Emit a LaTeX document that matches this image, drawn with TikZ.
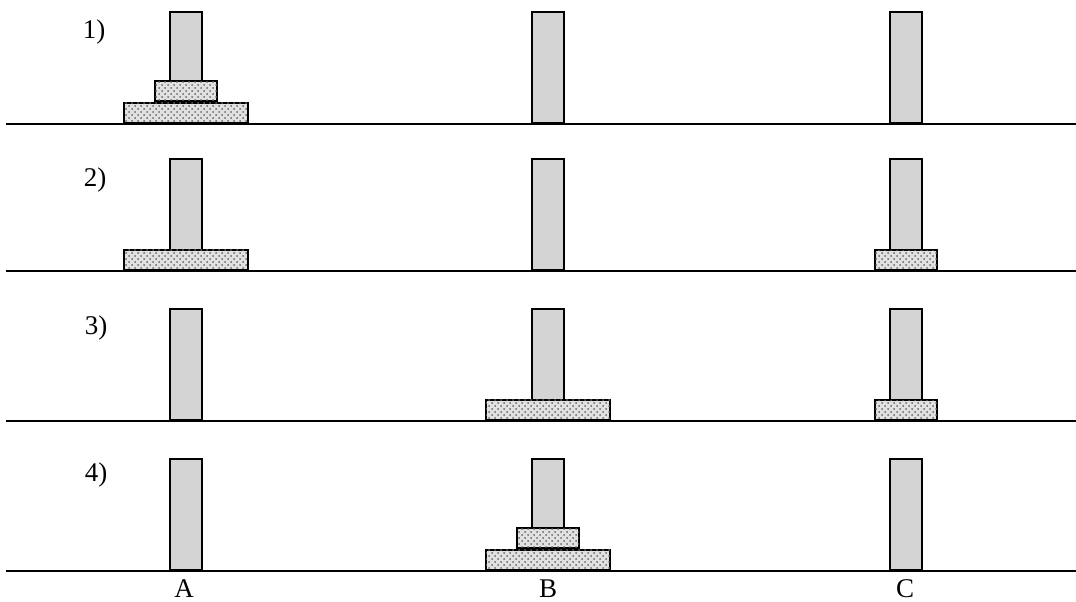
\documentclass[tikz,border=0pt]{standalone}
\usepackage{fontspec}
\setmainfont{Liberation Serif}
\usetikzlibrary{patterns}
\definecolor{pegfill}{RGB}{212, 212, 212}
\definecolor{diskfill}{RGB}{225, 225, 225}

\begin{document}
\begin{tikzpicture}[x=0.5pt, y=-0.5pt, every node/.style={font=\fontsize{13.5}{16}\selectfont, inner sep=0pt, anchor=base},
  peg/.style={draw, line width=1.1pt, fill=pegfill, minimum width=16pt, minimum height=55.5pt, anchor=south},
  bigdisk/.style={draw, line width=1.1pt, fill=diskfill, postaction={pattern=crosshatch dots, pattern color=black!60}, minimum width=62pt, minimum height=10pt, anchor=south},
  smalldisk/.style={bigdisk, minimum width=31pt, minimum height=9.8pt},
  ground/.style={line width=0.8pt}]
  \useasboundingbox (0,0) rectangle (1076,601);
  % pegs and floors
  \foreach \r/\y in {1/124, 2/271, 3/421, 4/571} {
    \foreach \p/\x in {A/186, B/548, C/906} {
      \node[peg] (peg\p\r) at (\x,\y) {};
    }
    \draw[ground] (6,\y) -- (1076,\y);
  }
  % 1)
  \node[bigdisk] (big1) at (pegA1.south) {};
  \node[smalldisk] (small1) at (big1.north) {};
  % 2)
  \node[bigdisk] (big2) at (pegA2.south) {};
  \node[smalldisk] (small2) at (pegC2.south) {};
  % 3)
  \node[bigdisk] (big3) at (pegB3.south) {};
  \node[smalldisk] (small3) at (pegC3.south) {};
  % 4)
  \node[bigdisk] (big4) at (pegB4.south) {};
  \node[smalldisk] (small4) at (big4.north) {};
  % labels
  \node (step1) at (94,38) {1)};
  \node (step2) at (95,186) {2)};
  \node (step3) at (96,334) {3)};
  \node (step4) at (96,481) {4)};
  \node (nameA) at (184,597) {A};
  \node (nameB) at (548,597) {B};
  \node (nameC) at (905,597) {C};
\end{tikzpicture}
\end{document}
